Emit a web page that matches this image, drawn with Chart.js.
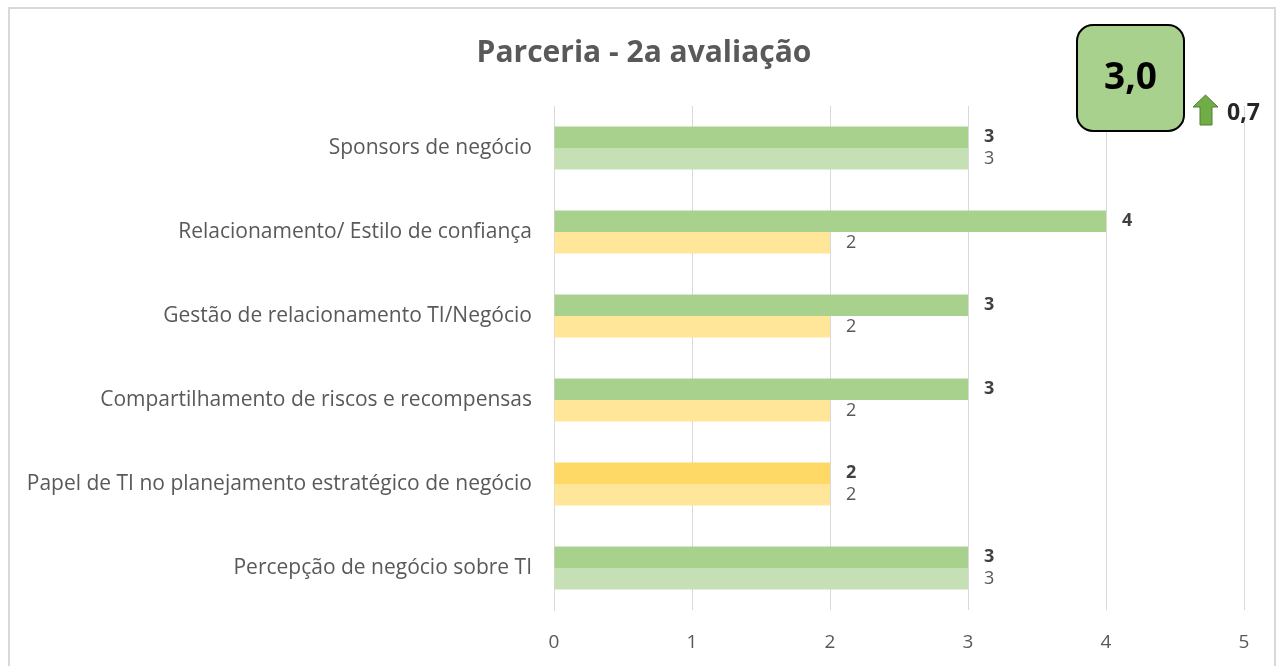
<!DOCTYPE html>
<html>
<head>
<meta charset="utf-8">
<script src="https://cdn.jsdelivr.net/npm/chart.js@4.4.1/dist/chart.umd.min.js"></script>
<style>
  body { margin: 0; background: #fff; }
  #frame {
    position: absolute; left: 8px; top: 7px; width: 1268px; height: 680px;
    border: 2px solid #d9d9d9; box-sizing: border-box;
  }
  #wrap { position: absolute; left: 0; top: 0; width: 1285px; height: 666px; }
</style>
</head>
<body>
<div id="frame"></div>
<div id="wrap"><canvas id="myChart"></canvas></div>
<script>
const title = "Parceria - 2a avaliação";
const categories = [
    "Sponsors de negócio",
    "Relacionamento/ Estilo de confiança",
    "Gestão de relacionamento TI/Negócio",
    "Compartilhamento de riscos e recompensas",
    "Papel de TI no planejamento estratégico de negócio",
    "Percepção de negócio sobre TI"
];
const current = [3, 4, 3, 3, 2, 3];   // 2a avaliação
const previous = [3, 2, 2, 2, 2, 3];  // 1a avaliação
const xTicks = [0, 1, 2, 3, 4, 5];
const score = 3.0;
const delta = 0.7;

const fontFam = "'Open Sans', sans-serif";
const grey = '#595959';

const colorFor = (v, light) => {
    if (v >= 3) return light ? '#c5e0b4' : '#a9d18e';
    return light ? '#ffe699' : '#ffd966';
};

const fmt = (v, d) => v.toFixed(d).replace('.', ',');

// value labels at the end of each bar
const valueLabels = {
    id: 'valueLabels',
    afterDatasetsDraw(chart) {
        const ctx = chart.ctx;
        ctx.save();
        ctx.textBaseline = 'middle';
        ctx.textAlign = 'left';
        chart.data.datasets.forEach((ds, i) => {
            const meta = chart.getDatasetMeta(i);
            ctx.font = (i === 0 ? 'bold ' : '') + '18px ' + fontFam;
            ctx.fillStyle = i === 0 ? '#404040' : grey;
            meta.data.forEach((bar, j) => {
                ctx.fillText(String(ds.data[j]), bar.x + 16, bar.y);
            });
        });
        ctx.restore();
    }
};

// title, score box and trend arrow
const extras = {
    id: 'extras',
    afterDraw(chart) {
        const ctx = chart.ctx;
        ctx.save();
        ctx.fillStyle = grey;
        ctx.font = 'bold 30px ' + fontFam;
        ctx.textAlign = 'center';
        ctx.textBaseline = 'middle';
        ctx.fillText(title, 644, 53);

        // score box
        ctx.beginPath();
        ctx.roundRect(1077, 25, 107, 106, 16);
        ctx.fillStyle = '#a9d18e';
        ctx.fill();
        ctx.lineWidth = 2;
        ctx.strokeStyle = '#000';
        ctx.stroke();
        ctx.fillStyle = '#000';
        ctx.font = 'bold 37px ' + fontFam;
        ctx.fillText(fmt(score, 1), 1130.5, 78);

        // up arrow
        ctx.beginPath();
        ctx.moveTo(1205.5, 95);
        ctx.lineTo(1218, 107);
        ctx.lineTo(1212, 107);
        ctx.lineTo(1212, 125);
        ctx.lineTo(1200, 125);
        ctx.lineTo(1200, 107);
        ctx.lineTo(1193, 107);
        ctx.closePath();
        ctx.fillStyle = '#70ad47';
        ctx.fill();
        ctx.lineWidth = 1;
        ctx.strokeStyle = '#507e32';
        ctx.stroke();

        ctx.fillStyle = '#262626';
        ctx.font = 'bold 23px ' + fontFam;
        ctx.textAlign = 'left';
        ctx.fillText(fmt(delta, 1), 1227, 113);
        ctx.restore();
    }
};

const ctx = document.getElementById('myChart').getContext('2d');
const myChart = new Chart(ctx, {
    type: 'bar',
    data: {
        labels: categories,
        datasets: [
            {
                label: '2a avaliação',
                data: current,
                backgroundColor: current.map(v => colorFor(v, false)),
            },
            {
                label: '1a avaliação',
                data: previous,
                backgroundColor: previous.map(v => colorFor(v, true)),
            }
        ]
    },
    options: {
        indexAxis: 'y',
        responsive: true,
        maintainAspectRatio: false,
        animation: false,
        categoryPercentage: 0.512,
        barPercentage: 1,
        layout: { padding: { top: 106, right: 41, left: 0, bottom: 0 } },
        plugins: {
            legend: { display: false },
            tooltip: { enabled: false }
        },
        scales: {
            x: {
                min: 0,
                max: 5,
                afterBuildTicks: (scale) => {
                    scale.ticks = xTicks.map(v => ({ value: v }));
                },
                afterFit: (scale) => { scale.height = 56; },
                grid: { color: '#d9d9d9', drawTicks: false },
                border: { display: false },
                ticks: { color: grey, padding: 21, font: { size: 19, family: fontFam } }
            },
            y: {
                afterFit: (scale) => { scale.width = 554; },
                grid: { display: false, drawTicks: false },
                border: { color: '#d9d9d9' },
                ticks: { color: grey, padding: 22, font: { size: 21, family: fontFam } }
            }
        }
    },
    plugins: [valueLabels, extras]
});
</script>
</body>
</html>
